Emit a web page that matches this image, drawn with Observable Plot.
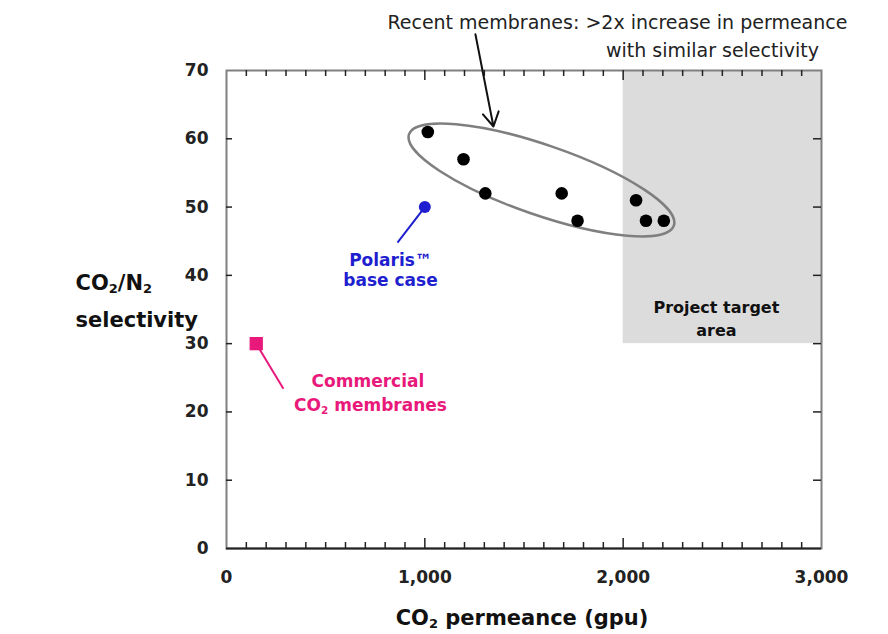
<!DOCTYPE html>
<html>
<head>
<meta charset="utf-8">
<script src="https://cdn.jsdelivr.net/npm/d3@7"></script>
<script src="https://cdn.jsdelivr.net/npm/@observablehq/plot@0.6"></script>
<style>
  html, body { margin: 0; padding: 0; background: #fff; overflow: hidden; }
</style>
</head>
<body>
<div id="chart"></div>
<script>
// ---- data ----
const recentPermeance  = [1015, 1195, 1305, 1690, 1770, 2065, 2115, 2205];
const recentSelectivity = [61, 57, 52, 52, 48, 51, 48, 48];
const polarisPermeance = [1000];
const polarisSelectivity = [50];
const commercialPermeance = [150];
const commercialSelectivity = [30];
const targetPermeance = [2000, 3000];
const targetSelectivity = [30, 70];
const xTicks = [0, 1000, 2000, 3000];
const yTicks = [0, 10, 20, 30, 40, 50, 60, 70];
const xMajorInner = [1000, 2000];
const xMinor = d3.range(100, 3000, 100).filter(d => d % 1000 !== 0);
const yInner = [10, 20, 30, 40, 50, 60];

// annotation anchors (data units)
const ellipseAxis = {x1: 923, y1: 60.6, x2: 2258, y2: 47.2};
const arrowFrom = {x: 1255, y: 75.3};
const arrowTo = {x: 1346, y: 61.8};
const polarisLeader = {x1: 1000, y1: 50, x2: 862, y2: 44.8};
const commercialLeader = {x1: 150, y1: 30, x2: 287, y2: 23.4};

const topNote = [
  {x: 1971, y: 77.0, text: "Recent membranes: >2x increase in permeance"},
  {x: 2450, y: 72.8, text: "with similar selectivity"}
];
const polarisNote = [
  {x: 827, y: 42.2, text: "Polaris™"},
  {x: 827, y: 39.3, text: "base case"}
];
const commercialNote = [
  {x: 713, y: 24.4, text: "Commercial"},
  {x: 726, y: 21.0, text: "CO₂ membranes"}
];
const targetNote = [
  {x: 2470, y: 35.2, text: "Project target"},
  {x: 2470, y: 31.9, text: "area"}
];

// ---- layout / style ----
const W = 888, H = 634;
const mL = 226, mR = 67, mT = 70, mB = 86;
const FW = W - mL - mR, FH = H - mT - mB;
const blue = "#1f1fd0";
const pink = "#e8197a";
const font = "DejaVu Sans";

const recent = recentPermeance.map((x, i) => ({x, y: recentSelectivity[i]}));
const polaris = polarisPermeance.map((x, i) => ({x, y: polarisSelectivity[i]}));
const commercial = commercialPermeance.map((x, i) => ({x, y: commercialSelectivity[i]}));
const target = [{x1: targetPermeance[0], x2: targetPermeance[1], y1: targetSelectivity[0], y2: targetSelectivity[1]}];

function ellipseMark(index, scales) {
  const sx = scales.x, sy = scales.y;
  const ax = sx(ellipseAxis.x1), ay = sy(ellipseAxis.y1);
  const bx = sx(ellipseAxis.x2), by = sy(ellipseAxis.y2);
  const cx = (ax + bx) / 2, cy = (ay + by) / 2;
  const rx = Math.hypot(bx - ax, by - ay) / 2;
  const ang = Math.atan2(by - ay, bx - ax) * 180 / Math.PI;
  const ns = "http://www.w3.org/2000/svg";
  const e = document.createElementNS(ns, "ellipse");
  e.setAttribute("cx", cx);
  e.setAttribute("cy", cy);
  e.setAttribute("rx", rx);
  e.setAttribute("ry", 35);
  e.setAttribute("transform", `rotate(${ang} ${cx} ${cy})`);
  e.setAttribute("fill", "none");
  e.setAttribute("stroke", "#7f7f7f");
  e.setAttribute("stroke-width", 2.5);
  return e;
}

const chart = Plot.plot({
  width: W,
  height: H,
  marginLeft: mL,
  marginRight: mR,
  marginTop: mT,
  marginBottom: mB,
  style: {fontFamily: font, background: "#fff", overflow: "visible"},
  x: {domain: [0, 3000]},
  y: {domain: [0, 70]},
  marks: [
    Plot.rect(target, {x1: "x1", x2: "x2", y1: "y1", y2: "y2", fill: "#dcdcdc"}),
    ellipseMark,
    Plot.frame({stroke: "#808080", strokeWidth: 2}),
    Plot.ruleY([0], {stroke: "#222", strokeWidth: 2}),
    // inward ticks
    Plot.tickX(xMinor, {x: d => d, insetTop: FH - 6, stroke: "#222", strokeWidth: 1.5}),
    Plot.tickX(xMajorInner, {x: d => d, insetTop: FH - 10, stroke: "#222", strokeWidth: 1.5}),
    Plot.tickX(xMinor, {x: d => d, insetBottom: FH - 6, stroke: "#222", strokeWidth: 1.5}),
    Plot.tickX(xMajorInner, {x: d => d, insetBottom: FH - 10, stroke: "#222", strokeWidth: 1.5}),
    Plot.tickY(yInner, {y: d => d, insetRight: FW - 6, stroke: "#222", strokeWidth: 1.5}),
    Plot.tickY(yInner, {y: d => d, insetLeft: FW - 8, stroke: "#222", strokeWidth: 1.5}),
    // axes
    Plot.axisX(xTicks, {tickSize: 0, tickPadding: 22, tickFormat: d3.format(","), fontSize: 17, fontWeight: "bold", fill: "#222", label: null}),
    Plot.axisY(yTicks, {tickSize: 0, tickPadding: 18, fontSize: 17, fontWeight: "bold", fill: "#222", label: null}),
    // leaders
    Plot.link([polarisLeader], {x1: "x1", y1: "y1", x2: "x2", y2: "y2", stroke: blue, strokeWidth: 2}),
    Plot.link([commercialLeader], {x1: "x1", y1: "y1", x2: "x2", y2: "y2", stroke: pink, strokeWidth: 2}),
    // points
    Plot.dot(recent, {x: "x", y: "y", r: 6.3, fill: "#000"}),
    Plot.dot(polaris, {x: "x", y: "y", r: 6, fill: blue}),
    Plot.dot(commercial, {x: "x", y: "y", r: 7.5, symbol: "square", fill: pink}),
    // arrow
    Plot.arrow([{x1: arrowFrom.x, y1: arrowFrom.y, x2: arrowTo.x, y2: arrowTo.y}], {x1: "x1", y1: "y1", x2: "x2", y2: "y2", stroke: "#111", strokeWidth: 2, headLength: 12, clip: false}),
    // annotations
    Plot.text(topNote, {x: "x", y: "y", text: "text", fontSize: 19, fill: "#222", clip: false}),
    Plot.text(polarisNote, {x: "x", y: "y", text: "text", fontSize: 17, fontWeight: "bold", fill: blue}),
    Plot.text(commercialNote, {x: "x", y: "y", text: "text", fontSize: 17, fontWeight: "bold", fill: pink}),
    Plot.text(targetNote, {x: "x", y: "y", text: "text", fontSize: 16, fontWeight: "bold", fill: "#111"}),
    // axis titles
    Plot.text(["CO₂/N₂"], {frameAnchor: "left", dx: -151, dy: -26, text: d => d, fontSize: 21, fontWeight: "bold", fill: "#111"}),
    Plot.text(["selectivity"], {frameAnchor: "left", dx: -151, dy: 11, text: d => d, fontSize: 21, fontWeight: "bold", fill: "#111"}),
    Plot.text(["CO₂ permeance (gpu)"], {frameAnchor: "bottom", dx: -2, dy: 76, text: d => d, fontSize: 21, fontWeight: "bold", fill: "#111"})
  ]
});

// render subscript "₂" as a real lowered, smaller "2"
function fixSubscripts(root) {
  const ns = "http://www.w3.org/2000/svg";
  const nodes = [];
  const walker = document.createTreeWalker(root, NodeFilter.SHOW_TEXT);
  while (walker.nextNode()) {
    if (walker.currentNode.nodeValue.includes("₂")) nodes.push(walker.currentNode);
  }
  for (const node of nodes) {
    const parts = node.nodeValue.split("₂");
    const frag = document.createDocumentFragment();
    parts.forEach((p, i) => {
      if (p) {
        const t = document.createElementNS(ns, "tspan");
        t.textContent = p;
        frag.appendChild(t);
      }
      if (i < parts.length - 1) {
        const s = document.createElementNS(ns, "tspan");
        s.textContent = "2";
        s.setAttribute("font-size", "0.62em");
        s.setAttribute("baseline-shift", "-25%");
        frag.appendChild(s);
      }
    });
    node.parentNode.replaceChild(frag, node);
  }
}
fixSubscripts(chart);
document.getElementById("chart").appendChild(chart);
</script>
</body>
</html>
